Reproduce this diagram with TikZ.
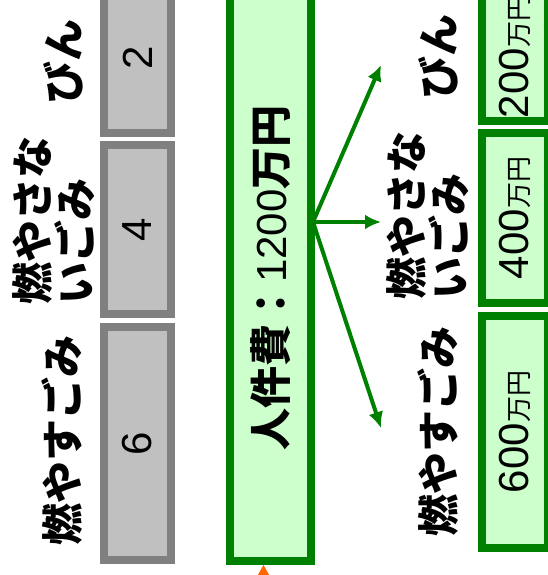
\documentclass[tikz,border=0pt]{standalone}
\usepackage{fontspec}
\setmainfont{Liberation Sans}
\newfontfamily\jp{Noto Sans CJK JP}
\usetikzlibrary{arrows.meta}

\definecolor{greyline}{HTML}{808080}
\definecolor{greyfill}{HTML}{C0C0C0}
\definecolor{costline}{HTML}{008000}
\definecolor{costfill}{HTML}{CCFFCC}
\definecolor{markfill}{HTML}{FF6600}

\newcommand{\manyen}{{\jp\fontsize{26}{26}\selectfont 万円}}

\begin{document}
\begin{tikzpicture}[x=1pt,y=-1pt,
  tonbox/.style={draw=greyline,fill=greyfill,line width=8pt,rotate=90,minimum height=67pt,inner sep=0pt,font=\fontsize{42}{42}\selectfont},
  costbox/.style={draw=costline,fill=costfill,line width=8pt,rotate=90,inner sep=0pt,font=\fontsize{42}{42}\selectfont},
  kind/.style={rotate=90,align=left,inner sep=0pt,font=\jp\bfseries\fontsize{42}{43}\selectfont},
  flow/.style={draw=costline,line width=4pt,-{Latex[length=16pt,width=15pt]}}]
\useasboundingbox (0,0) rectangle (548,575);

% amounts per kind
\node[tonbox,minimum width=150pt] (t1) at (137.5,58) {2};
\node[tonbox,minimum width=169pt] (t2) at (137.5,229.5) {4};
\node[tonbox,minimum width=233pt] (t3) at (137.5,443.5) {6};

\node[kind] (k1) at (63,62) {びん};
\node[kind] (k2) at (54,220) {燃やさな\\いごみ};
\node[kind] (k3) at (62,440) {燃やすごみ};

% total cost
\node[costbox,minimum width=566pt,minimum height=81pt] (total) at (270.5,278) {{\jp\bfseries 人件費：}1200{\jp\bfseries 万円}};
\coordinate (mark) at (263.5,565);
\fill[markfill] (mark) -- ++(-9,16) -- ++(18,0) -- cycle;

% split
\coordinate (hub) at (313,222);
\coordinate (to1) at (381,65);
\coordinate (to2) at (381,222);
\coordinate (to3) at (381,428);
\draw (hub) edge[flow] (to1) edge[flow] (to2) edge[flow] (to3);

\node[kind] (r1) at (438,57) {びん};
\node[kind] (r2) at (428,215) {燃やさな\\いごみ};
\node[kind] (r3) at (438,431) {燃やすごみ};

\node[costbox,minimum width=128pt,minimum height=66pt] (c1) at (515,57) {200\manyen};
\node[costbox,minimum width=170pt,minimum height=66pt] (c2) at (515,218) {400\manyen};
\node[costbox,minimum width=232pt,minimum height=66pt] (c3) at (515,432) {600\manyen};
\end{tikzpicture}
\end{document}
